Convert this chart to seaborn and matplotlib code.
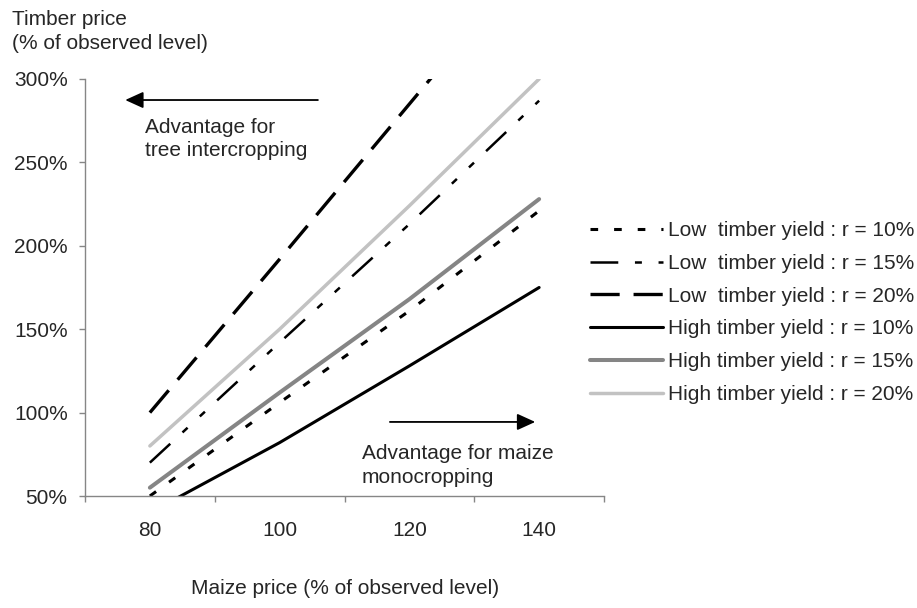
import matplotlib
matplotlib.use("Agg")
import matplotlib.pyplot as plt
import seaborn as sns
import pandas as pd

# ---- data ----
maize = [80, 100, 120, 140]
x_labels = ["80", "100", "120", "140"]
low_10 = [50, 106, 161, 221]
low_15 = [70, 142, 213, 287]
low_20 = [100, 192, 285, 378]
high_10 = [40, 82, 128, 175]
high_15 = [55, 112, 168, 228]
high_20 = [80, 150, 224, 300]
series_names = [
    "Low  timber yield : r = 10%",
    "Low  timber yield : r = 15%",
    "Low  timber yield : r = 20%",
    "High timber yield : r = 10%",
    "High timber yield : r = 15%",
    "High timber yield : r = 20%",
]
y_ticks = [50, 100, 150, 200, 250, 300]

sns.set_style("white")
plt.rcParams["font.family"] = ["Liberation Sans", "DejaVu Sans"]
plt.rcParams["lines.scale_dashes"] = False

fig = plt.figure(figsize=(9.17, 6.08), dpi=100)
ax = fig.add_axes([85 / 917, 1 - 496 / 608, 519 / 917, 417 / 608])

styles = [
    dict(color="black", lw=2.2, dashes=(5.5, 11.5)),
    dict(color="black", lw=1.8, dashes=(20, 12, 5, 12, 5, 12)),
    dict(color="black", lw=2.4, dashes=(21, 10)),
    dict(color="black", lw=2.2, dashes=None),
    dict(color="#858585", lw=2.9, dashes=None),
    dict(color="#c2c2c2", lw=2.5, dashes=None),
]
all_series = [low_10, low_15, low_20, high_10, high_15, high_20]

for name, vals, st in zip(series_names, all_series, styles):
    df = pd.DataFrame({"maize": maize, "timber": vals})
    sns.lineplot(data=df, x="maize", y="timber", ax=ax, color=st["color"],
                 linewidth=st["lw"], label=name)
    line = ax.lines[-1]
    line.set_dash_capstyle("butt")
    if st["dashes"] is not None:
        line.set_dashes(st["dashes"])

ax.set_xlim(70, 150)
ax.set_ylim(50, 300)
ax.set_yticks(y_ticks)
ax.set_yticklabels([f"{v}%" for v in y_ticks])
ax.set_xticks([70, 90, 110, 130, 150])
ax.set_xticklabels([])
ax.set_xticks(maize, minor=True)
ax.set_xticklabels(x_labels, minor=True)
ax.set_xlabel("")
ax.set_ylabel("")

spine_col = "#868686"
for s in ["top", "right"]:
    ax.spines[s].set_visible(False)
for s in ["left", "bottom"]:
    ax.spines[s].set_color(spine_col)
    ax.spines[s].set_linewidth(1.0)
ax.tick_params(axis="x", which="major", length=4.5, width=1.0, color=spine_col, direction="out", bottom=True)
ax.tick_params(axis="x", which="minor", length=0, pad=18, labelsize=15, bottom=True)
ax.tick_params(axis="y", which="major", length=4.5, width=1.0, color=spine_col, direction="out",
               left=True, pad=8, labelsize=15)

# annotations
ax.annotate("", xy=(76.2, 287.4), xytext=(105.9, 287.4), annotation_clip=False,
            arrowprops=dict(arrowstyle="-|>,head_length=0.55,head_width=0.25",
                            color="black", lw=1.3, mutation_scale=20, shrinkA=0, shrinkB=0))
ax.text(79.2, 264, "Advantage for\ntree intercropping", ha="left", va="center",
        fontsize=15, linespacing=1.32)
ax.annotate("", xy=(139.4, 94.4), xytext=(117.0, 94.4), annotation_clip=False,
            arrowprops=dict(arrowstyle="-|>,head_length=0.55,head_width=0.25",
                            color="black", lw=1.3, mutation_scale=20, shrinkA=0, shrinkB=0))
ax.text(112.7, 68.5, "Advantage for maize\nmonocropping", ha="left", va="center",
        fontsize=15, linespacing=1.32)

fig.text(12 / 917, 1 - 10 / 608, "Timber price\n(% of observed level)", ha="left", va="top",
         fontsize=15, linespacing=1.35)
fig.text(345 / 917, 1 - 588 / 608, "Maize price (% of observed level)", ha="center", va="center",
         fontsize=15)

leg = ax.legend(loc="center left", bbox_to_anchor=(590 / 917, 1 - 312.5 / 608),
                bbox_transform=fig.transFigure, frameon=False, fontsize=15,
                handlelength=3.5, handletextpad=0.25, labelspacing=0.66,
                borderpad=0, borderaxespad=0)

fig.savefig("out.png", dpi=100)
